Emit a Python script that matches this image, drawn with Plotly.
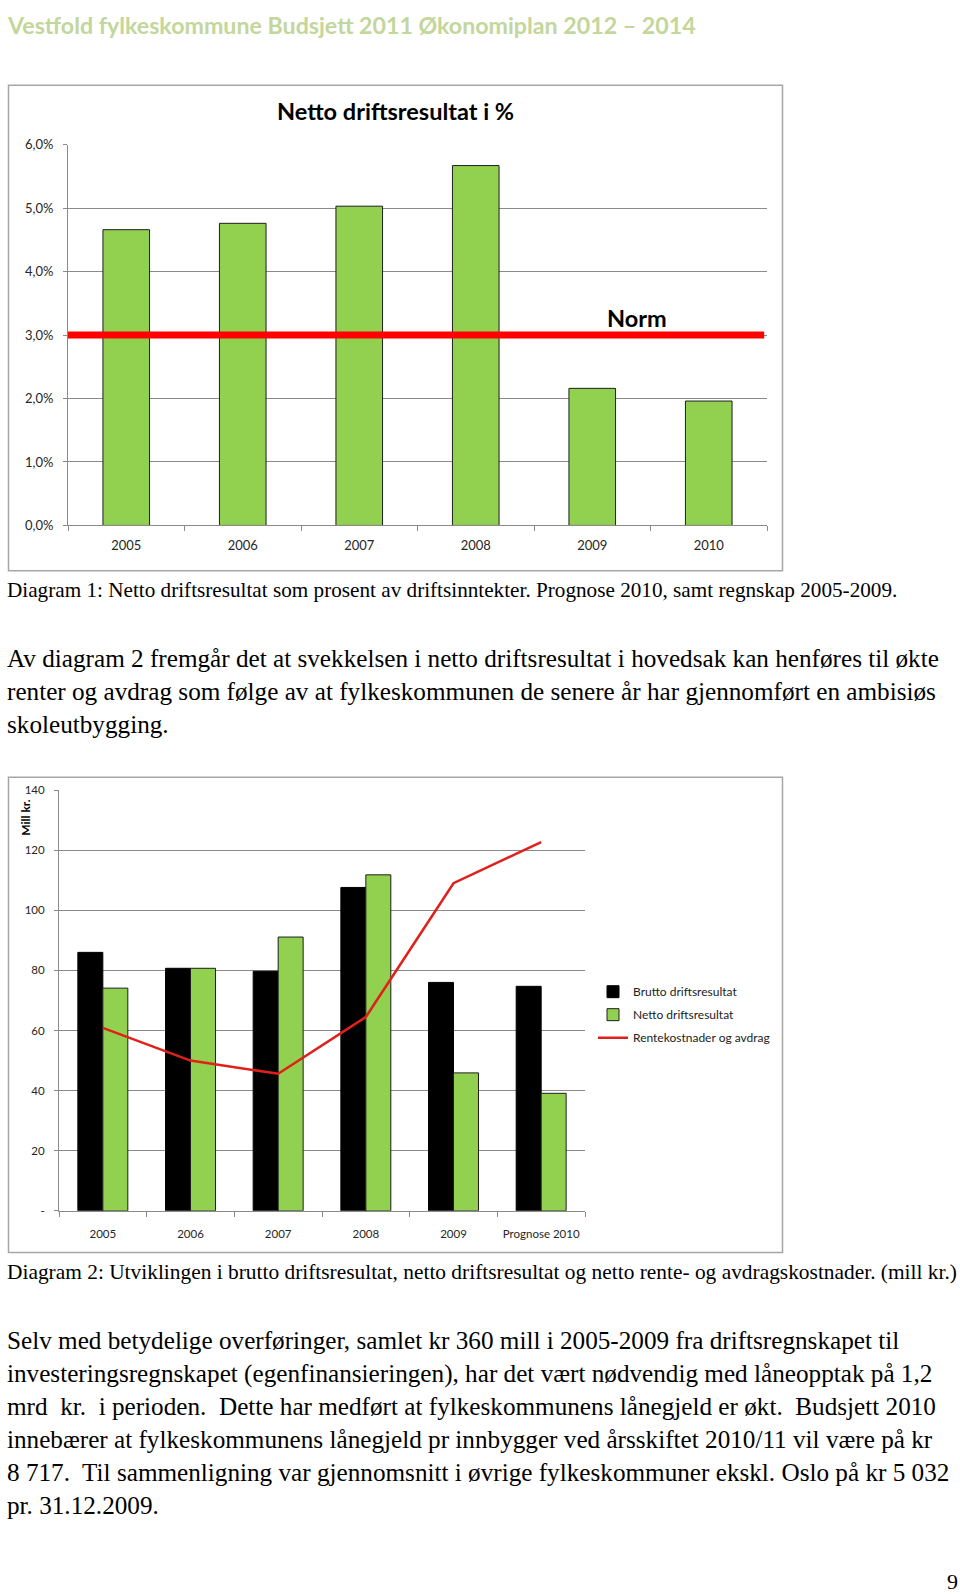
import plotly.graph_objects as go

W, H = 960, 1596
def px(x): return x / W
def py(y): return 1 - y / H

# ---------------- data ----------------
years1 = ["2005", "2006", "2007", "2008", "2009", "2010"]
netto_pct = [4.66, 4.76, 5.03, 5.67, 2.16, 1.96]
norm_pct = 3.0
y1_tickvals = [0, 1, 2, 3, 4, 5, 6]
y1_ticktext = ["0,0%", "1,0%", "2,0%", "3,0%", "4,0%", "5,0%", "6,0%"]

years2 = ["2005", "2006", "2007", "2008", "2009", "Prognose 2010"]
brutto = [86.0, 80.7, 79.7, 107.6, 76.0, 74.7]
netto = [74.1, 80.7, 91.1, 111.8, 45.9, 39.1]
rente = [60.9, 50.0, 45.6, 64.5, 109.0, 122.7]
y2_tickvals = [0, 20, 40, 60, 80, 100, 120, 140]
y2_ticktext = ["-", "20", "40", "60", "80", "100", "120", "140"]

header = "Vestfold fylkeskommune Budsjett 2011 Økonomiplan 2012 – 2014"
title1 = "Netto driftsresultat i %"
caption1 = "Diagram 1: Netto driftsresultat som prosent av driftsinntekter. Prognose 2010, samt regnskap 2005-2009."
para1 = [
    "Av diagram 2 fremgår det at svekkelsen i netto driftsresultat i hovedsak kan henføres til økte",
    "renter og avdrag som følge av at fylkeskommunen de senere år har gjennomført en ambisiøs",
    "skoleutbygging.",
]
caption2 = "Diagram 2: Utviklingen i brutto driftsresultat, netto driftsresultat og netto rente- og avdragskostnader. (mill kr.)"
para2 = [
    "Selv med betydelige overføringer, samlet kr 360 mill i 2005-2009 fra driftsregnskapet til",
    "investeringsregnskapet (egenfinansieringen), har det vært nødvendig med låneopptak på 1,2",
    "mrd  kr.  i perioden.  Dette har medført at fylkeskommunens lånegjeld er økt.  Budsjett 2010",
    "innebærer at fylkeskommunens lånegjeld pr innbygger ved årsskiftet 2010/11 vil være på kr",
    "8 717.  Til sammenligning var gjennomsnitt i øvrige fylkeskommuner ekskl. Oslo på kr 5 032",
    "pr. 31.12.2009.",
]
page_no = "9"

GREEN = "#92D050"
GRID = "#8A8A8A"
SANS = "Lato, Carlito, Arial, sans-serif"
SERIF = "Liberation Serif, Times New Roman, serif"

fig = go.Figure()

# Chart 1
fig.add_trace(go.Bar(
    x=years1, y=netto_pct, xaxis="x", yaxis="y", width=0.4,
    marker=dict(color=GREEN, line=dict(color="#1E1E1E", width=1)),
    showlegend=False, hoverinfo="x+y",
))

# Chart 2
fig.add_trace(go.Bar(
    x=years2, y=brutto, xaxis="x2", yaxis="y2", width=0.285, offset=-0.285,
    marker=dict(color="#000000", line=dict(color="#000000", width=1)),
    name="Brutto driftsresultat", legendgroup="a",
))
fig.add_trace(go.Bar(
    x=years2, y=netto, xaxis="x2", yaxis="y2", width=0.285, offset=0,
    marker=dict(color=GREEN, line=dict(color="#1E1E1E", width=1)),
    name="Netto driftsresultat", legendgroup="b",
))
fig.add_trace(go.Scatter(
    x=years2, y=rente, xaxis="x2", yaxis="y2", mode="lines",
    line=dict(color="#E0201B", width=2.5),
    name="Rentekostnader og avdrag", legendgroup="c",
))

axis_common = dict(fixedrange=True)
fig.update_layout(
    width=W, height=H, margin=dict(l=0, r=0, t=0, b=0),
    paper_bgcolor="white", plot_bgcolor="white",
    barmode="overlay",
    xaxis=dict(domain=[px(68), px(767)], anchor="y", type="category", range=[-0.5, 5.5],
               showline=True, linecolor=GRID, linewidth=1, ticks="outside", tickson="boundaries",
               ticklen=5, tickcolor=GRID, showgrid=False, ticklabelstandoff=8,
               tickfont=dict(family=SANS, size=13, color="#262626"), **axis_common),
    yaxis=dict(domain=[py(522.7), py(138)], anchor="x", range=[0, 6.0],
               tickvals=y1_tickvals, ticktext=y1_ticktext, showgrid=True, gridcolor=GRID,
               gridwidth=1, showline=True, linecolor=GRID, ticks="outside", ticklen=4,
               tickcolor=GRID, zeroline=False, ticklabelstandoff=7,
               tickfont=dict(family=SANS, size=13, color="#262626"), **axis_common),
    xaxis2=dict(domain=[px(59), px(585)], anchor="y2", type="category", range=[-0.5, 5.5],
                showline=True, linecolor=GRID, linewidth=1, ticks="outside", tickson="boundaries",
                ticklen=5, tickcolor=GRID, showgrid=False, ticklabelstandoff=12,
                tickfont=dict(family=SANS, size=11.5, color="#262626"), **axis_common),
    yaxis2=dict(domain=[py(1215), py(790)], anchor="x2", range=[0, 140],
                tickvals=y2_tickvals, ticktext=y2_ticktext, showgrid=True, gridcolor=GRID,
                gridwidth=1, showline=True, linecolor=GRID, ticks="outside", ticklen=4,
                tickcolor=GRID, zeroline=False, ticklabelstandoff=7,
                tickfont=dict(family=SANS, size=11.5, color="#262626"), **axis_common),
    legend=dict(x=px(593), y=py(979), xanchor="left", yanchor="top",
                font=dict(family=SANS, size=12, color="#222222"),
                bgcolor="rgba(0,0,0,0)", traceorder="grouped", tracegroupgap=4),
    showlegend=True,
)

shapes = [
    dict(type="rect", xref="paper", yref="paper", x0=px(8.5), x1=px(782.5), y0=py(568.5), y1=py(78),
         line=dict(color="#A6A6A6", width=1.5), layer="below"),
    dict(type="rect", xref="paper", yref="paper", x0=px(8.5), x1=px(782.5), y0=py(1257), y1=py(777),
         line=dict(color="#A6A6A6", width=1.5), layer="below"),
    dict(type="line", xref="x domain", yref="y", x0=0, x1=0.996, y0=norm_pct, y1=norm_pct,
         line=dict(color="#FF0000", width=7), layer="above"),
]
fig.update_layout(shapes=shapes)

ann = []
def text(x, y, s, size, family, color="#000000", anchor="left", bold=False, angle=0):
    ann.append(dict(xref="paper", yref="paper", x=px(x), y=py(y), text=("<b>%s</b>" % s) if bold else s,
                    showarrow=False, xanchor=anchor, yanchor="middle", textangle=angle,
                    font=dict(family=family, size=size, color=color)))

text(5, 17, header, 23.2, SANS, color="#C3D69B", bold=True)
text(395, 104, title1, 23.5, SANS, anchor="center", bold=True)
text(637, 313, "Norm", 23.5, SANS, anchor="center", bold=True)
text(26, 818, "Mill kr.", 12, SANS, anchor="center", bold=True, angle=-90)
text(5, 588, caption1, 21.2, SERIF)
for i, line in enumerate(para1):
    text(5, 657 + i * 33.5, line, 25.2, SERIF)
text(5, 1277, caption2, 21.4, SERIF)
for i, line in enumerate(para2):
    text(5, 1346 + i * 33.4, line, 25.2, SERIF)
text(952, 1589, page_no, 22, SERIF, anchor="center")
fig.update_layout(annotations=ann)

fig.write_html("out.html")
